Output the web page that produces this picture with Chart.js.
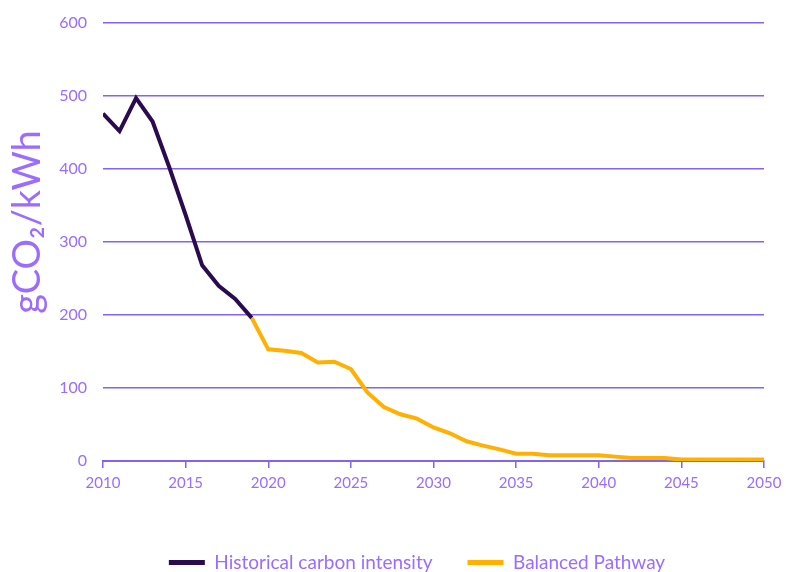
<!DOCTYPE html>
<html><head><meta charset="utf-8">
<script src="https://cdn.jsdelivr.net/npm/chart.js@4.4.1/dist/chart.umd.min.js"></script>
<style>html,body{margin:0;padding:0;background:#fff;}#wrap{width:786px;height:572px;}</style>
</head><body><div id="wrap"><canvas id="c" width="786" height="572"></canvas></div>
<script>
const histYears = [2010,2011,2012,2013,2014,2015,2016,2017,2018,2019];
const histValues = [476,452,497,465,403,337,268,240,222,196];
const pathYears = [2019,2020,2021,2022,2023,2024,2025,2026,2027,2028,2029,2030,2031,2032,2033,2034,2035,2036,2037,2038,2039,2040,2041,2042,2043,2044,2045,2046,2047,2048,2049,2050];
const pathValues = [196,153,151,148,135,136,126,94,74,64,58,46,38,27,21,16,10,10,8,8,8,8,6,4,4,4,2,2,2,2,2,2];
const xTicks = [2010,2015,2020,2025,2030,2035,2040,2045,2050];
const yTicks = [0,100,200,300,400,500,600];
const seriesNames = ['Historical carbon intensity','Balanced Pathway'];
const yTitle = 'gCO₂/kWh';

const TXT = '#9a6cff';
const GRID = '#8463f2';
const FONT = 'Lato';

const yTitlePlugin = {
  id: 'yTitlePlugin',
  afterLayout(chart) {
    if (chart.legend) { chart.legend.left += 35; chart.legend.right += 35; }
  },
  afterDraw(chart) {
    const ctx = chart.ctx;
    ctx.save();
    ctx.translate(28, 222);
    ctx.rotate(-Math.PI / 2);
    ctx.font = '38px ' + FONT;
    ctx.fillStyle = TXT;
    ctx.textAlign = 'center';
    ctx.textBaseline = 'middle';
    ctx.fillText(yTitle, 0, 0);
    ctx.restore();
  }
};

new Chart(document.getElementById('c'), {
  type: 'line',
  data: {
    datasets: [
      { label: seriesNames[0], data: histYears.map((x,i)=>({x, y: histValues[i]})),
        borderColor: '#2b0b4f', backgroundColor: '#2b0b4f', borderWidth: 4, pointRadius: 0, tension: 0 },
      { label: seriesNames[1], data: pathYears.map((x,i)=>({x, y: pathValues[i]})),
        borderColor: '#ffb000', backgroundColor: '#ffb000', borderWidth: 4, pointRadius: 0, tension: 0 }
    ]
  },
  plugins: [yTitlePlugin],
  options: {
    responsive: false, animation: false,
    layout: { padding: { left: 0, right: 22, top: 23, bottom: -10 } },
    plugins: {
      tooltip: { enabled: false },
      legend: {
        position: 'bottom',
        labels: {
          color: TXT, font: { family: FONT, size: 19 },
          usePointStyle: false, boxWidth: 36, boxHeight: 0, padding: 35,
          generateLabels: (chart) => chart.data.datasets.map((d,i)=>({
            text: d.label, fillStyle: d.borderColor, strokeStyle: d.borderColor,
            lineWidth: 5, lineCap: 'round', datasetIndex: i, fontColor: TXT
          }))
        }
      }
    },
    scales: {
      x: {
        type: 'linear', min: 2010, max: 2050,
        afterBuildTicks: s => { s.ticks = xTicks.map(v=>({value:v})); },
        afterFit: s => { s.paddingRight = 0; s.paddingLeft = 0; s.height = s.height + 20; },
        ticks: { color: TXT, font: { family: FONT, size: 15 }, callback: v => String(v), maxRotation: 0, padding: 6 },
        grid: { display: true, drawOnChartArea: false, drawTicks: true, tickLength: 7, color: GRID, lineWidth: 1.5 },
        border: { display: true, color: GRID, width: 2 }
      },
      y: {
        min: 0, max: 600,
        afterBuildTicks: s => { s.ticks = yTicks.map(v=>({value:v})); },
        afterFit: s => { s.width = 103; s.paddingTop = 0; s.paddingBottom = 0; },
        ticks: { color: TXT, font: { family: FONT, size: 16 }, padding: 16 },
        grid: { color: GRID, lineWidth: 1.5, drawTicks: false },
        border: { display: false },
        title: { display: false }
      }
    }
  }
});
</script></body></html>
